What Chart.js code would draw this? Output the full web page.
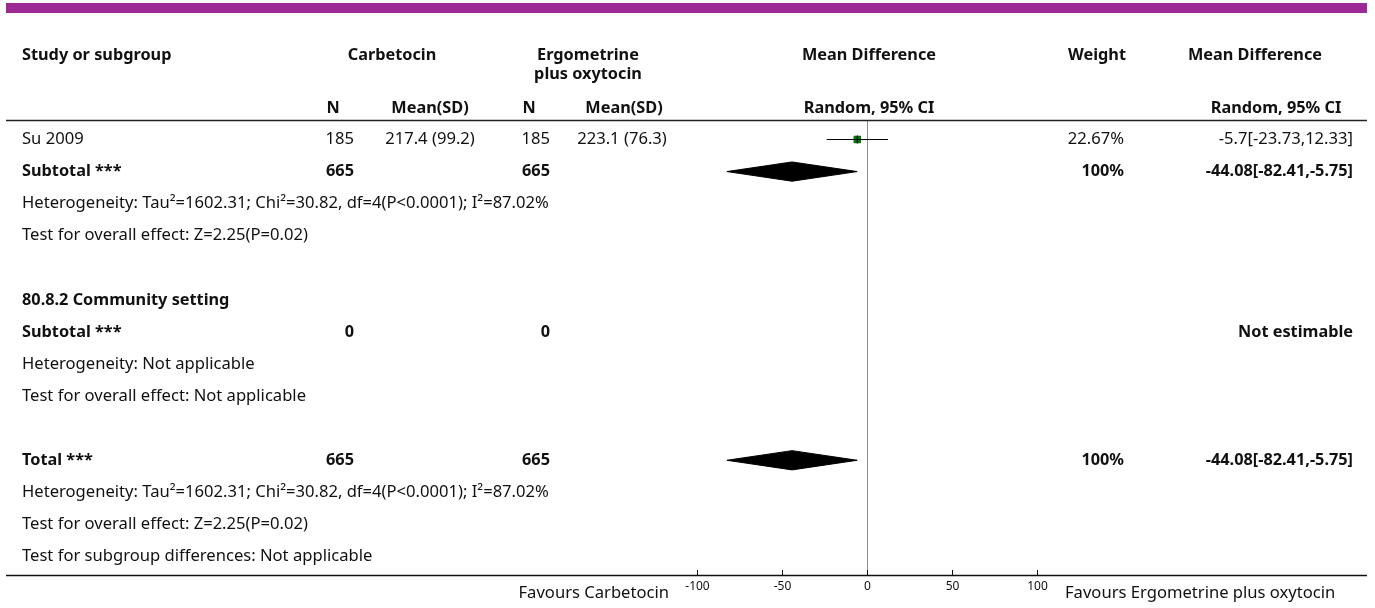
<!DOCTYPE html>
<html>
<head>
<meta charset="utf-8">
<script src="https://cdn.jsdelivr.net/npm/chart.js@4/dist/chart.umd.min.js"></script>
<style>
  html, body { margin: 0; padding: 0; background: #fff; }
  #wrap { width: 1375px; height: 608px; position: relative; }
</style>
</head>
<body>
<div id="wrap"><canvas id="forest" width="1375" height="608"></canvas></div>
<script>
// ===== table data =====
const rowLabels = [
    'Su 2009',
    'Subtotal ***',
    'Heterogeneity: Tau\u00B2=1602.31; Chi\u00B2=30.82, df=4(P<0.0001); I\u00B2=87.02%',
    'Test for overall effect: Z=2.25(P=0.02)',
    '',
    '80.8.2 Community setting',
    'Subtotal ***',
    'Heterogeneity: Not applicable',
    'Test for overall effect: Not applicable',
    '',
    'Total ***',
    'Heterogeneity: Tau\u00B2=1602.31; Chi\u00B2=30.82, df=4(P<0.0001); I\u00B2=87.02%',
    'Test for overall effect: Z=2.25(P=0.02)',
    'Test for subgroup differences: Not applicable'
];
const boldRows = [1, 5, 6, 10];
const carbN = ['185', '665', '', '', '', '', '0', '', '', '', '665', '', '', ''];
const carbMean = ['217.4 (99.2)', '', '', '', '', '', '', '', '', '', '', '', '', ''];
const ergoN = ['185', '665', '', '', '', '', '0', '', '', '', '665', '', '', ''];
const ergoMean = ['223.1 (76.3)', '', '', '', '', '', '', '', '', '', '', '', '', ''];
const weights = ['22.67%', '100%', '', '', '', '', '', '', '', '', '100%', '', '', ''];
const effectText = ['-5.7[-23.73,12.33]', '-44.08[-82.41,-5.75]', '', '', '', '', 'Not estimable', '', '', '', '-44.08[-82.41,-5.75]', '', '', ''];

// individual studies
const studyRows = [0];
const studyMean = [-5.7];
const studyLow = [-23.73];
const studyHigh = [12.33];

// pooled estimates (diamonds)
const pooledRows = [1, 10];
const pooledMean = [-44.08, -44.08];
const pooledLow = [-82.41, -82.41];
const pooledHigh = [-5.75, -5.75];

const axisTicks = [-100, -50, 0, 50, 100];
const favoursLeft = 'Favours Carbetocin';
const favoursRight = 'Favours Ergometrine plus oxytocin';

// ===== layout =====
const FONT = '"Noto Sans", "Open Sans", sans-serif';
const REG = '16.6px ';
const BOLD = 'bold 16.3px ';
const DIAMOND_HALF = 0.3; // in row units
const ROW_TOP = 120, ROW_BOTTOM = 575, ROW_H = 32.08;

const datasets = [];

// CI lines
for (let i = 0; i < studyRows.length; i++) {
    datasets.push({
        type: 'line',
        data: [{x: studyLow[i], y: studyRows[i]}, {x: studyHigh[i], y: studyRows[i]}],
        borderColor: '#000',
        borderWidth: 1,
        pointRadius: 0,
        fill: false,
        order: 1
    });
}
// study squares
datasets.push({
    type: 'scatter',
    data: studyRows.map((r, i) => ({x: studyMean[i], y: r})),
    pointStyle: 'rect',
    pointRadius: 4.6,
    backgroundColor: '#008000',
    borderColor: '#006400',
    borderWidth: 1,
    order: 2
});
datasets.push({
    type: 'scatter',
    data: studyRows.map((r, i) => ({x: studyMean[i], y: r})),
    pointStyle: 'line',
    rotation: 90,
    pointRadius: 4,
    borderColor: '#000',
    borderWidth: 1,
    order: 0
});
// diamonds
for (let i = 0; i < pooledRows.length; i++) {
    const r = pooledRows[i];
    datasets.push({
        type: 'line',
        data: [
            {x: pooledLow[i], y: r},
            {x: pooledMean[i], y: r - DIAMOND_HALF},
            {x: pooledHigh[i], y: r},
            {x: pooledMean[i], y: r + DIAMOND_HALF},
            {x: pooledLow[i], y: r}
        ],
        borderColor: '#000',
        backgroundColor: '#000',
        borderWidth: 1,
        pointRadius: 0,
        tension: 0,
        fill: 'shape',
        order: 3
    });
}

// draws the table text, rules, zero line and axis
const tablePlugin = {
    id: 'forestTable',
    beforeDatasetsDraw(chart) {
        const ctx = chart.ctx;
        const xs = chart.scales.x;
        const x0 = xs.getPixelForValue(0);
        ctx.save();
        ctx.strokeStyle = '#8c8c8c';
        ctx.lineWidth = 1;
        ctx.beginPath();
        ctx.moveTo(Math.round(x0) + 0.5, ROW_TOP);
        ctx.lineTo(Math.round(x0) + 0.5, ROW_BOTTOM);
        ctx.stroke();
        ctx.restore();
    },
    afterDraw(chart) {
        const ctx = chart.ctx;
        const xs = chart.scales.x;
        const ys = chart.scales.y;
        ctx.save();

        // purple band
        ctx.fillStyle = '#9c2996';
        ctx.fillRect(6, 3, 1361, 10);

        ctx.fillStyle = '#111';
        ctx.textBaseline = 'middle';

        // headers
        ctx.font = BOLD + FONT;
        ctx.textAlign = 'left';
        ctx.fillText('Study or subgroup', 22, 55);
        ctx.textAlign = 'center';
        ctx.fillText('Carbetocin', 392, 55);
        ctx.fillText('Ergometrine', 588, 55);
        ctx.fillText('plus oxytocin', 588, 74);
        ctx.fillText('Mean Difference', 869, 55);
        ctx.fillText('Weight', 1097, 55);
        ctx.fillText('Mean Difference', 1255, 55);
        ctx.fillText('N', 333, 108);
        ctx.fillText('Mean(SD)', 430, 108);
        ctx.fillText('N', 529, 108);
        ctx.fillText('Mean(SD)', 624, 108);
        ctx.fillText('Random, 95% CI', 869, 108);
        ctx.fillText('Random, 95% CI', 1276, 108);

        // header rule
        ctx.strokeStyle = '#222';
        ctx.lineWidth = 1.5;
        ctx.beginPath();
        ctx.moveTo(6, 120.5);
        ctx.lineTo(1367, 120.5);
        ctx.stroke();

        // rows
        for (let i = 0; i < rowLabels.length; i++) {
            const y = ys.getPixelForValue(i);
            const bold = boldRows.includes(i);
            ctx.font = (bold ? BOLD : REG) + FONT;
            ctx.textAlign = 'left';
            ctx.fillText(rowLabels[i], 22, y);
            ctx.textAlign = 'right';
            ctx.fillText(carbN[i], 354, y);
            ctx.fillText(ergoN[i], 550, y);
            ctx.fillText(weights[i], 1124, y);
            ctx.fillText(effectText[i], 1353, y);
            ctx.textAlign = 'center';
            ctx.fillText(carbMean[i], 430, y);
            ctx.fillText(ergoMean[i], 622, y);
        }

        // bottom rule + axis
        ctx.strokeStyle = '#111';
        ctx.lineWidth = 1.5;
        ctx.beginPath();
        ctx.moveTo(6, ROW_BOTTOM + 0.5);
        ctx.lineTo(1367, ROW_BOTTOM + 0.5);
        ctx.stroke();
        ctx.lineWidth = 1;
        ctx.font = '12px ' + FONT;
        ctx.textAlign = 'center';
        for (const t of axisTicks) {
            const x = Math.round(xs.getPixelForValue(t)) + 0.5;
            ctx.beginPath();
            ctx.moveTo(x, ROW_BOTTOM - 5);
            ctx.lineTo(x, ROW_BOTTOM);
            ctx.stroke();
            ctx.fillText(String(t), x, ROW_BOTTOM + 12);
        }
        ctx.font = REG + FONT;
        ctx.textAlign = 'right';
        ctx.fillText(favoursLeft, 669, ROW_BOTTOM + 18);
        ctx.textAlign = 'left';
        ctx.fillText(favoursRight, 1065, ROW_BOTTOM + 18);

        ctx.restore();
    }
};

new Chart(document.getElementById('forest').getContext('2d'), {
    type: 'scatter',
    data: { datasets: datasets },
    options: {
        responsive: false,
        devicePixelRatio: 1,
        animation: false,
        layout: {
            padding: { left: 697, right: 338, top: ROW_TOP, bottom: 608 - ROW_BOTTOM }
        },
        scales: {
            x: { type: 'linear', min: -100, max: 100, display: false },
            y: { type: 'linear', reverse: true, min: -19.5 / ROW_H, max: 13 + 18.5 / ROW_H, display: false }
        },
        plugins: {
            legend: { display: false },
            tooltip: { enabled: false }
        }
    },
    plugins: [tablePlugin]
});
</script>
</body>
</html>
